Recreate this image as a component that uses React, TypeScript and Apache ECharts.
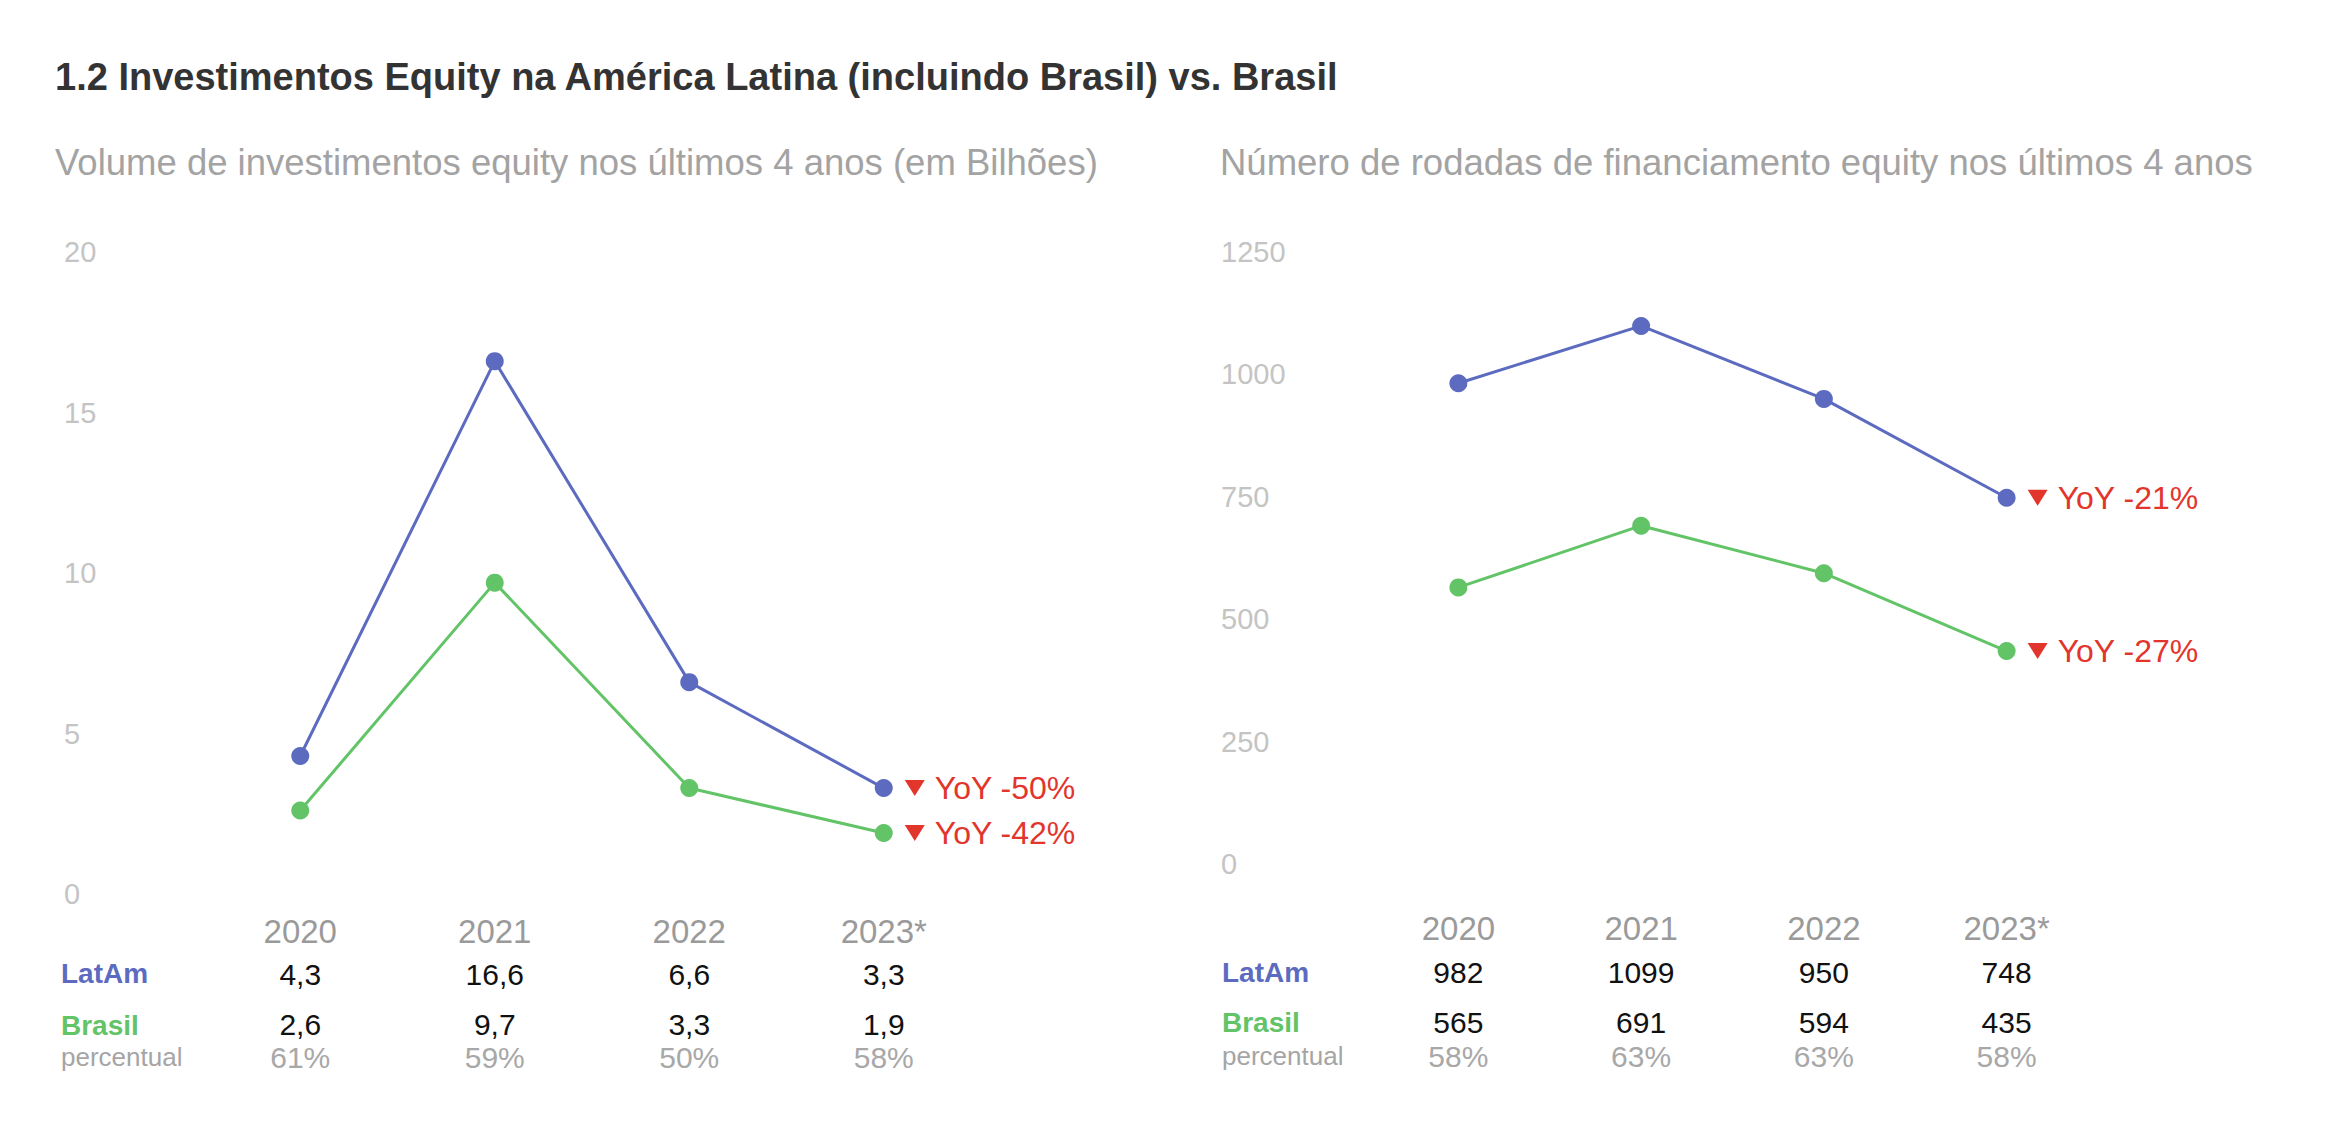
import React, { useEffect, useRef } from "react";
import * as echarts from "echarts";

const years = ["2020", "2021", "2022", "2023*"];

// Left chart: volume (billions)
const volLatAm = [4.3, 16.6, 6.6, 3.3];
const volBrasil = [2.6, 9.7, 3.3, 1.9];
const volPercent = ["61%", "59%", "50%", "58%"];
const volYoY = [-50, -42]; // LatAm, Brasil
const volTicks = { min: 0, max: 20, interval: 5 };

// Right chart: number of rounds
const rndLatAm = [982, 1099, 950, 748];
const rndBrasil = [565, 691, 594, 435];
const rndPercent = ["58%", "63%", "63%", "58%"];
const rndYoY = [-21, -27];
const rndTicks = { min: 0, max: 1250, interval: 250 };

const title = "1.2 Investimentos Equity na América Latina (incluindo Brasil) vs. Brasil";
const subLeft = "Volume de investimentos equity nos últimos 4 anos (em Bilhões)";
const subRight = "Número de rodadas de financiamento equity nos últimos 4 anos";
const rowLabels = ["LatAm", "Brasil", "percentual"];

const BLUE = "#5c6bc0";
const GREEN = "#62c467";
const RED = "#e2352c";
const FONT = "Liberation Sans";

const fmtComma = (v: number) => String(v).replace(".", ",");

function App() {
  const ref = useRef<HTMLDivElement>(null);

  useEffect(() => {
    if (!ref.current) return;
    const chart = echarts.init(ref.current, null, { renderer: "svg" });

    const grids = [
      { left: 203, top: 252, width: 778, height: 642 },
      { left: 1367, top: 252, width: 731, height: 612 },
    ];
    const tableOffsets = [
      [37, 80, 130, 163],
      [64, 108, 158, 192],
    ];
    const yLabelX = [64, 1221];

    const mkX = (gi: number, data: string[], offset: number, color: string, size: number) => ({
      type: "category",
      gridIndex: gi,
      data,
      position: "bottom",
      offset,
      boundaryGap: true,
      axisLine: { show: false },
      axisTick: { show: false },
      splitLine: { show: false },
      axisLabel: {
        color,
        fontSize: size,
        fontFamily: FONT,
        margin: 0,
        verticalAlign: "middle",
        interval: 0,
      },
    });

    const xAxes: any[] = [];
    const tables = [
      { vals: [volLatAm.map(fmtComma), volBrasil.map(fmtComma), volPercent] },
      { vals: [rndLatAm.map(String), rndBrasil.map(String), rndPercent] },
    ];
    [0, 1].forEach((gi) => {
      const off = tableOffsets[gi];
      xAxes.push(mkX(gi, years, off[0], "#9a9a9a", 33));
      xAxes.push(mkX(gi, tables[gi].vals[0], off[1], "#111111", 30));
      xAxes.push(mkX(gi, tables[gi].vals[1], off[2], "#111111", 30));
      xAxes.push(mkX(gi, tables[gi].vals[2], off[3], "#a8a8a8", 30));
    });

    const ticks = [volTicks, rndTicks];
    const yAxes = [0, 1].map((gi) => ({
      type: "value",
      gridIndex: gi,
      min: ticks[gi].min,
      max: ticks[gi].max,
      interval: ticks[gi].interval,
      axisLine: { show: false },
      axisTick: { show: false },
      splitLine: { show: false },
      axisLabel: {
        color: "#c4c4c4",
        fontSize: 29,
        fontFamily: FONT,
        align: "left",
        margin: grids[gi].left - yLabelX[gi],
        formatter: (v: number) => String(v),
      },
    }));

    const mkSeries = (gi: number, data: number[], color: string, yoy: number) => ({
      type: "line",
      xAxisIndex: gi * 4,
      yAxisIndex: gi,
      data,
      symbol: "circle",
      symbolSize: 18,
      showSymbol: true,
      lineStyle: { color, width: 3 },
      itemStyle: { color },
      endLabel: {
        show: true,
        distance: 51,
        formatter: () => `YoY ${yoy}%`,
        color: RED,
        fontSize: 32,
        fontFamily: FONT,
      },
      markPoint: {
        symbol: "triangle",
        symbolRotate: 180,
        symbolSize: [20, 16],
        symbolOffset: [31, 0],
        itemStyle: { color: RED },
        label: { show: false },
        data: [{ coord: [years[years.length - 1], data[data.length - 1]] }],
      },
      z: 3,
    });

    const series = [
      mkSeries(0, volLatAm, BLUE, volYoY[0]),
      mkSeries(0, volBrasil, GREEN, volYoY[1]),
      mkSeries(1, rndLatAm, BLUE, rndYoY[0]),
      mkSeries(1, rndBrasil, GREEN, rndYoY[1]),
    ];

    const rowY = [
      [973, 1025, 1057],
      [972, 1022, 1056],
    ];
    const rowX = [61, 1222];
    const graphics: any[] = [
      {
        type: "text",
        x: 55,
        y: 77,
        style: { text: title, fill: "#333333", font: `bold 38px "${FONT}"`, verticalAlign: "middle" },
      },
      {
        type: "text",
        x: 55,
        y: 162,
        style: { text: subLeft, fill: "#a3a3a3", font: `36.5px "${FONT}"`, verticalAlign: "middle" },
      },
      {
        type: "text",
        x: 1220,
        y: 162,
        style: { text: subRight, fill: "#a3a3a3", font: `36.5px "${FONT}"`, verticalAlign: "middle" },
      },
    ];
    [0, 1].forEach((gi) => {
      const colors = [BLUE, GREEN, "#a5a5a5"];
      rowLabels.forEach((lab, i) => {
        graphics.push({
          type: "text",
          x: rowX[gi],
          y: rowY[gi][i],
          style: {
            text: lab,
            fill: colors[i],
            font: i < 2 ? `bold 28px "${FONT}"` : `26px "${FONT}"`,
            verticalAlign: "middle",
          },
        });
      });
    });

    chart.setOption({
      animation: false,
      backgroundColor: "#ffffff",
      textStyle: { fontFamily: FONT },
      grid: grids,
      xAxis: xAxes,
      yAxis: yAxes,
      series,
      graphic: graphics,
    });

    return () => chart.dispose();
  }, []);

  return (
    <div
      ref={ref}
      style={{ position: "absolute", left: 0, top: 0, width: 2328, height: 1147 }}
    />
  );
}

export default App;
